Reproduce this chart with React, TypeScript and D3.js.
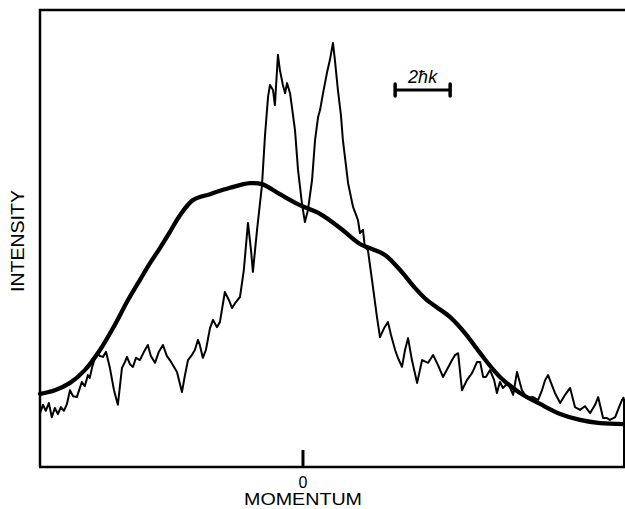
import React from "react";
import * as d3 from "d3";

// Momentum in units of ħk (0 at the tick), intensity in arbitrary units (0..100)
const noisyMomentum = [
  -9.56, -9.45, -9.35, -9.24, -9.13, -9.02, -8.91, -8.8, -8.69, -8.58,
  -8.47, -8.36, -8.22, -8.11, -8.04, -7.93, -7.82, -7.75, -7.67, -7.56,
  -7.49, -7.38, -7.27, -7.16, -7.02, -6.87, -6.73, -6.65, -6.58, -6.47,
  -6.4, -6.29, -6.18, -6.07, -5.93, -5.78, -5.64, -5.53, -5.38, -5.24,
  -5.09, -4.95, -4.84, -4.73, -4.58, -4.4, -4.29, -4.18, -4.04, -3.93,
  -3.82, -3.75, -3.64, -3.53, -3.38, -3.27, -3.13, -3.02, -2.84, -2.69,
  -2.58, -2.44, -2.29, -2.15, -2.0, -1.89, -1.82, -1.67, -1.49, -1.38,
  -1.27, -1.2, -1.09, -1.02, -0.91, -0.84, -0.73, -0.65, -0.58, -0.47,
  -0.29, -0.18, -0.04, 0.07, 0.18, 0.33, 0.44, 0.55, 0.62, 0.73,
  0.87, 0.98, 1.09, 1.16, 1.27, 1.38, 1.45, 1.56, 1.64, 1.82,
  2.0, 2.07, 2.18, 2.25, 2.36, 2.51, 2.69, 2.8, 2.95, 3.09,
  3.2, 3.35, 3.45, 3.6, 3.71, 3.82, 3.96, 4.15, 4.33, 4.55,
  4.73, 4.91, 5.09, 5.27, 5.42, 5.53, 5.64, 5.78, 5.96, 6.15,
  6.33, 6.44, 6.55, 6.65, 6.8, 6.95, 7.05, 7.16, 7.27, 7.45,
  7.64, 7.78, 7.96, 8.15, 8.36, 8.55, 8.69, 8.8, 8.91, 9.05,
  9.16, 9.35, 9.53, 9.71, 9.89, 10.07, 10.25, 10.44, 10.62, 10.73,
  10.91, 11.05, 11.16, 11.35, 11.49, 11.6, 11.67,
];
const noisyIntensity = [
  11.8, 13.6, 12.3, 14.0, 10.9, 12.9, 11.6, 13.1, 12.3, 13.8,
  16.8, 15.5, 15.3, 17.3, 18.6, 17.7, 20.1, 19.5, 21.7, 23.9,
  24.9, 24.3, 24.1, 25.2, 21.7, 16.8, 13.6, 17.9, 21.7, 23.0,
  24.1, 22.5, 21.9, 23.9, 23.4, 25.2, 26.7, 24.3, 22.8, 25.2,
  26.7, 24.3, 23.4, 22.3, 20.8, 16.4, 20.1, 23.4, 24.5, 25.6,
  27.8, 26.7, 23.9, 25.6, 30.4, 32.2, 30.6, 31.7, 38.3, 36.5,
  34.8, 36.1, 37.2, 43.1, 53.4, 47.5, 42.7, 51.9, 61.7, 72.6,
  81.0, 83.6, 82.5, 79.2, 90.2, 86.9, 83.6, 81.8, 84.0, 81.8,
  73.7, 65.0, 57.8, 53.6, 56.2, 62.8, 71.6, 76.6, 78.1, 81.8,
  86.2, 89.1, 92.8, 89.1, 82.5, 77.0, 71.6, 66.1, 62.1, 56.9,
  54.0, 51.2, 51.9, 48.1, 47.5, 40.9, 32.8, 28.4, 30.4, 31.7,
  28.9, 25.6, 23.9, 21.9, 25.6, 28.2, 23.4, 18.4, 23.4, 22.8,
  24.5, 22.3, 19.7, 21.7, 23.4, 24.5, 24.9, 16.8, 19.0, 20.6,
  23.0, 23.0, 19.7, 19.7, 21.2, 19.0, 16.2, 18.6, 17.3, 18.4,
  15.8, 20.8, 16.8, 15.1, 15.3, 14.7, 16.8, 19.0, 20.1, 17.9,
  16.2, 14.0, 15.8, 17.3, 13.1, 12.5, 13.3, 11.8, 13.6, 15.3,
  10.7, 10.7, 10.3, 10.9, 13.1, 14.7, 15.3,
];

const smoothMomentum = [
  -9.56, -9.02, -8.47, -7.93, -7.38, -6.84, -6.4, -5.93, -5.56, -5.2,
  -4.84, -4.47, -4.0, -3.38, -2.65, -1.93, -1.49, -0.84, -0.11, 0.62,
  1.35, 2.07, 2.51, 2.98, 3.53, 4.07, 4.51, 5.35, 5.89, 6.44,
  7.16, 7.89, 8.62, 9.35, 10.07, 10.8, 11.67,
];
const smoothIntensity = [
  16.0, 16.8, 18.4, 21.2, 25.6, 31.1, 36.1, 40.9, 44.6, 47.9,
  51.4, 55.1, 58.4, 59.7, 61.1, 62.1, 61.9, 59.7, 57.3, 55.4,
  52.3, 48.8, 47.7, 46.4, 43.1, 39.2, 36.5, 32.8, 29.3, 24.9,
  19.7, 16.2, 13.8, 11.6, 10.3, 9.6, 9.4,
];

const momentumDomain = [-9.56, 11.67];
const intensityDomain = [0, 100];
const zeroTick = [0];
const scaleBar = [3.35, 5.35]; // 2ħk
const scaleBarLevel = 82.5;
const scaleBarLabel = "2ħk";
const xTitle = "MOMENTUM";
const yTitle = "INTENSITY";

const W = 625;
const H = 509;

export default function App() {
  const x = d3.scaleLinear().domain(momentumDomain).range([40, 624]);
  const y = d3.scaleLinear().domain(intensityDomain).range([467, 10]);

  const noisy = noisyMomentum.map((m, i) => [m, noisyIntensity[i]] as [number, number]);
  const smooth = smoothMomentum.map((m, i) => [m, smoothIntensity[i]] as [number, number]);

  const thinLine = d3
    .line<[number, number]>()
    .x((d) => x(d[0]))
    .y((d) => y(d[1]))
    .curve(d3.curveLinear);
  const thickLine = d3
    .line<[number, number]>()
    .x((d) => x(d[0]))
    .y((d) => y(d[1]))
    .curve(d3.curveCatmullRom.alpha(0.5));

  const [x0, x1] = x.range();
  const [yb, yt] = y.range();
  const font = "'Liberation Sans', Arial, Helvetica, sans-serif";

  return (
    <svg
      width={W}
      height={H}
      style={{ position: "absolute", left: 0, top: 0, background: "#fff" }}
    >
      <rect x={0} y={0} width={W} height={H} fill="#fff" />
      {/* frame */}
      <path
        d={`M${x0},${yb} L${x0},${yt} L${x1 + 1},${yt}`}
        fill="none"
        stroke="#000"
        strokeWidth={2.5}
      />
      <line x1={x0 - 1} x2={x1 + 1} y1={yb} y2={yb} stroke="#000" strokeWidth={2.5} />
      <line x1={x1} x2={x1} y1={y(15)} y2={yb} stroke="#000" strokeWidth={2} />

      {/* zero tick */}
      {zeroTick.map((t) => (
        <g key={t}>
          <line x1={x(t)} x2={x(t)} y1={yb - 17} y2={yb} stroke="#000" strokeWidth={3} />
          <text
            x={x(t)}
            y={488}
            textAnchor="middle"
            fontFamily={font}
            fontSize={16}
          >
            {String(t)}
          </text>
        </g>
      ))}

      {/* data */}
      <path
        d={thickLine(smooth) || ""}
        fill="none"
        stroke="#000"
        strokeWidth={4.3}
        strokeLinejoin="round"
        strokeLinecap="round"
      />
      <path
        d={thinLine(noisy) || ""}
        fill="none"
        stroke="#000"
        strokeWidth={2}
        strokeLinejoin="round"
      />

      {/* scale bar */}
      <line
        x1={x(scaleBar[0])}
        x2={x(scaleBar[1])}
        y1={y(scaleBarLevel)}
        y2={y(scaleBarLevel)}
        stroke="#000"
        strokeWidth={3}
      />
      {scaleBar.map((s, i) => (
        <line
          key={i}
          x1={x(s)}
          x2={x(s)}
          y1={y(scaleBarLevel) - 6}
          y2={y(scaleBarLevel) + 6}
          stroke="#000"
          strokeWidth={3.5}
          strokeLinecap="round"
        />
      ))}
      <text
        x={(x(scaleBar[0]) + x(scaleBar[1])) / 2}
        y={y(scaleBarLevel) - 7}
        textAnchor="middle"
        fontFamily={font}
        fontStyle="italic"
        fontSize={18}
      >
        {scaleBarLabel}
      </text>

      {/* axis titles */}
      <text
        x={303}
        y={505}
        textAnchor="middle"
        fontFamily={font}
        fontSize={17}
        textLength={118}
        lengthAdjust="spacingAndGlyphs"
      >
        {xTitle}
      </text>
      <text
        transform={`translate(24,${241}) rotate(-90)`}
        textAnchor="middle"
        fontFamily={font}
        fontSize={18}
        textLength={102}
        lengthAdjust="spacingAndGlyphs"
      >
        {yTitle}
      </text>
    </svg>
  );
}
